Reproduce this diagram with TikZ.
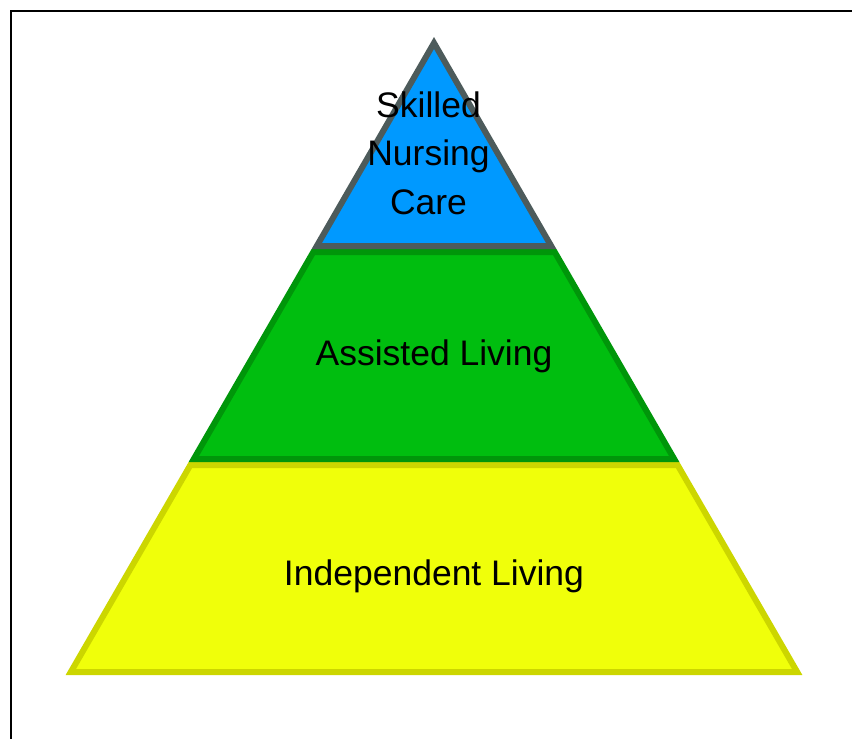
\documentclass[tikz,border=0pt]{standalone}
\usepackage{fontspec}
\setmainfont{Liberation Sans}
\usepackage{tikz}
\definecolor{skyBlue}{RGB}{0,153,255}
\definecolor{slateEdge}{RGB}{77,91,91}
\definecolor{grassGreen}{RGB}{0,190,15}
\definecolor{darkGreen}{RGB}{0,150,10}
\definecolor{lemonFill}{RGB}{240,255,10}
\definecolor{yellowEdge}{RGB}{204,214,0}
\tikzstyle{tier} = [line width=6pt, line join=miter]
\tikzstyle{tierText} = [font=\fontsize{35.5}{48.5}\selectfont, text=black, inner sep=0pt]

\begin{document}
\begin{tikzpicture}[x=1pt, y=-1pt]
        \useasboundingbox (0,0) rectangle (852,739);
        \draw [line width=2.3pt] (11.2,11.2) rectangle (870,760);

        % bottom tier
        \coordinate (yTopL) at (190.4,465);
        \coordinate (yTopR) at (677.6,465);
        \coordinate (yBotR) at (797.2,672);
        \coordinate (yBotL) at (70.8,672);
        \filldraw [tier, fill=lemonFill, draw=yellowEdge] (yTopL) -- (yTopR) -- (yBotR) -- (yBotL) -- cycle;

        % middle tier
        \coordinate (gTopL) at (313.3,252);
        \coordinate (gTopR) at (554.7,252);
        \coordinate (gBotR) at (674.2,459);
        \coordinate (gBotL) at (193.8,459);
        \filldraw [tier, fill=grassGreen, draw=darkGreen] (gTopL) -- (gTopR) -- (gBotR) -- (gBotL) -- cycle;

        % top tier
        \coordinate (apex) at (434,43);
        \coordinate (bBotR) at (551.2,246);
        \coordinate (bBotL) at (316.8,246);
        \filldraw [tier, fill=skyBlue, draw=slateEdge] (apex) -- (bBotR) -- (bBotL) -- cycle;

        \node (skilledCare) [tierText, align=center] at (428.5,153) {Skilled\\Nursing\\Care};
        \node (assistedLiving) [tierText, anchor=base] at (434,365.7) {Assisted Living};
        \node (independentLiving) [tierText, anchor=base] at (434,585.7) {Independent Living};
\end{tikzpicture}
\end{document}
